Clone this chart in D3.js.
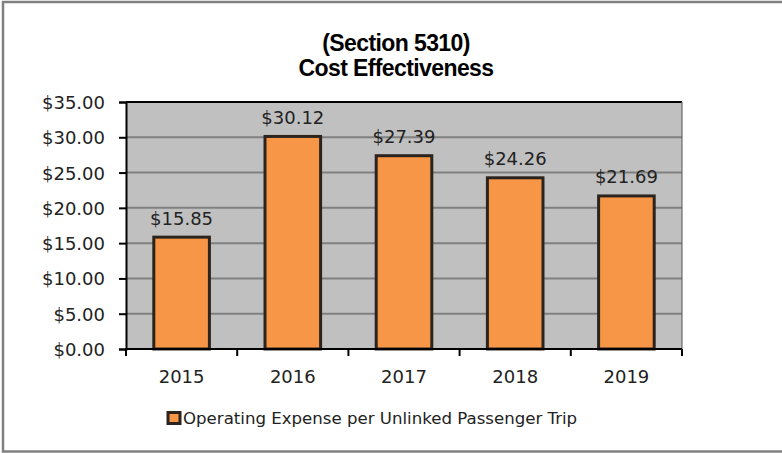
<!DOCTYPE html>
<html>
<head>
<meta charset="utf-8">
<script src="https://cdn.jsdelivr.net/npm/d3@7"></script>
<style>
  html, body { margin: 0; padding: 0; background: #fff; }
  svg { display: block; }
</style>
</head>
<body>
<svg id="chart" width="782" height="453"></svg>
<script>
const titleLines = ["(Section 5310)", "Cost Effectiveness"];
const years = ["2015", "2016", "2017", "2018", "2019"];
const values = [15.85, 30.12, 27.39, 24.26, 21.69];
const valueLabels = ["$15.85", "$30.12", "$27.39", "$24.26", "$21.69"];
const yTicks = [0, 5, 10, 15, 20, 25, 30, 35];
const seriesName = "Operating Expense per Unlinked Passenger Trip";

const svg = d3.select("#chart");
const W = 782, H = 453;
const plot = { left: 126, right: 682, top: 102, bottom: 349 };
const font = "'DejaVu Sans', Verdana, sans-serif";

// outer frame
svg.append("rect")
  .attr("x", 3).attr("y", 2).attr("width", W + 10).attr("height", 449.5)
  .attr("fill", "#fff").attr("stroke", "#808080").attr("stroke-width", 2.5);

const x = d3.scaleBand().domain(years).range([plot.left, plot.right])
  .paddingInner(0.5).paddingOuter(0.25);
const y = d3.scaleLinear().domain([0, 35]).range([plot.bottom, plot.top]);

// plot background
svg.append("rect")
  .attr("x", plot.left).attr("y", plot.top)
  .attr("width", plot.right - plot.left).attr("height", plot.bottom - plot.top)
  .attr("fill", "#c0c0c0");

// gridlines
svg.append("g").selectAll("line").data(yTicks.filter(t => t > 0 && t < 35)).join("line")
  .attr("x1", plot.left).attr("x2", plot.right)
  .attr("y1", d => y(d)).attr("y2", d => y(d))
  .attr("stroke", "#808080").attr("stroke-width", 2);

// plot borders top/right
svg.append("line").attr("x1", plot.left).attr("x2", plot.right)
  .attr("y1", plot.top).attr("y2", plot.top).attr("stroke", "#000").attr("stroke-width", 2);
svg.append("line").attr("x1", plot.right).attr("x2", plot.right)
  .attr("y1", plot.top).attr("y2", plot.bottom).attr("stroke", "#555").attr("stroke-width", 1);

// bars
svg.append("g").selectAll("rect").data(values).join("rect")
  .attr("x", (d, i) => x(years[i]))
  .attr("y", d => y(d))
  .attr("width", x.bandwidth())
  .attr("height", d => y(0) - y(d))
  .attr("fill", "#f79646")
  .attr("stroke", "#2b241e").attr("stroke-width", 3);

// data labels
svg.append("g").selectAll("text").data(values).join("text")
  .attr("x", (d, i) => x(years[i]) + x.bandwidth() / 2)
  .attr("y", d => y(d) - 12.5)
  .attr("text-anchor", "middle")
  .attr("font-family", font).attr("font-size", 18)
  .attr("fill", "#222")
  .text((d, i) => valueLabels[i]);

// y axis
const yAxis = d3.axisLeft(y).tickValues(yTicks).tickSize(7).tickPadding(14)
  .tickFormat(d => "$" + d3.format(".2f")(d));
const gy = svg.append("g").attr("transform", `translate(${plot.left},0)`).call(yAxis);
gy.select(".domain").attr("stroke", "#000").attr("stroke-width", 2);
gy.selectAll(".tick line").attr("stroke", "#000").attr("stroke-width", 2);
gy.selectAll(".tick text").attr("font-family", font).attr("font-size", 18)
  .attr("fill", "#222").attr("dy", "0.36em");

// x axis
const gx = svg.append("g").attr("transform", `translate(0,${plot.bottom})`)
  .call(d3.axisBottom(x).tickSize(0).tickPadding(0));
gx.select(".domain").remove();
gx.append("line").attr("x1", plot.left - 1).attr("x2", plot.right)
  .attr("stroke", "#000").attr("stroke-width", 2);
const boundaries = years.map(yr => x(yr) - x.step() * x.paddingInner() / 2).concat([plot.right]);
gx.append("g").selectAll("line").data(boundaries).join("line")
  .attr("x1", d => d).attr("x2", d => d).attr("y1", 0).attr("y2", 7)
  .attr("stroke", "#000").attr("stroke-width", 2);
gx.selectAll(".tick text").attr("font-family", font).attr("font-size", 18)
  .attr("fill", "#222").attr("dy", null).attr("y", 34);

// title
svg.append("g").selectAll("text").data(titleLines).join("text")
  .attr("x", 396).attr("y", (d, i) => 51 + i * 25)
  .attr("text-anchor", "middle")
  .attr("font-family", "'Liberation Sans', Arial, sans-serif")
  .attr("font-weight", "bold").attr("font-size", 23)
  .attr("letter-spacing", "-0.6px")
  .attr("fill", "#000")
  .text(d => d);

// legend
const lg = svg.append("g");
lg.append("rect").attr("x", 168).attr("y", 412.5).attr("width", 12).attr("height", 11)
  .attr("fill", "#f79646").attr("stroke", "#2b241e").attr("stroke-width", 3);
lg.append("text").attr("x", 183).attr("y", 423.5)
  .attr("font-family", font).attr("font-size", 16.6).attr("fill", "#222")
  .text(seriesName);
</script>
</body>
</html>
